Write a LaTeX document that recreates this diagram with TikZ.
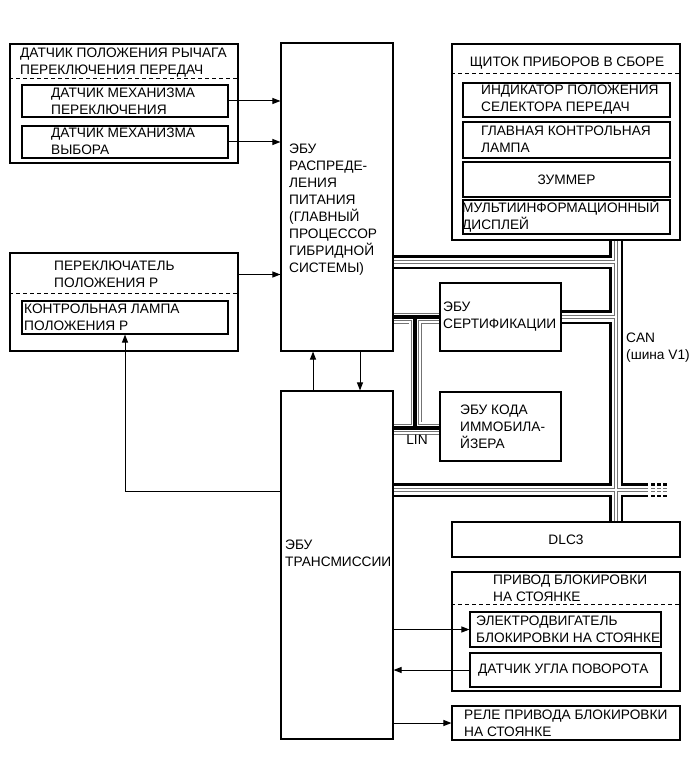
\documentclass[tikz,border=0pt]{standalone}
\usepackage{fontspec}
\setmainfont{Liberation Sans}
\usetikzlibrary{arrows.meta}
\newcommand\lblfont{\fontsize{13.7}{17}\selectfont}

\begin{document}
\begin{tikzpicture}[x=1pt,y=-1pt,>={Triangle[length=8pt,width=6pt]},
  box/.style={draw,line width=1.1pt,inner sep=0pt},
  lbl/.style={font=\lblfont,align=left,inner sep=0pt,anchor=west},
  sep/.style={line width=1pt,dash pattern=on 4pt off 3pt},
  conn/.style={line width=1pt,->}]
\useasboundingbox (0,0) rectangle (691,759);

% CAN bus
\foreach \w/\c in {14/black,9/white,4.2/black!55,2.8/white}
  \draw[line width=\w pt,\c] (393,262) -- (616,262) (616,240) -- (616,522)
    (561,317) -- (616,317) (393,490) -- (648,490);
\foreach \w/\c in {14/black,9/white,4.2/black!55,2.8/white}
  \draw[line width=\w pt,\c,dash pattern=on 3.5pt off 2.5pt] (651,490) -- (668,490);
% LIN bus
\foreach \w/\c in {13/black!55,11.5/white,8/black!55,6.8/white,4/black}
  \draw[line width=\w pt,\c] (393,317) -- (440,317) (415,317) -- (415,428)
    (393,428) -- (440,428);

% shift lever position sensor
\node[box,minimum width=228pt,minimum height=119pt] (lever) at (124,103.5) {};
\draw[sep] (lever.west |- 0,79) -- (lever.east |- 0,79);
\node[lbl] (levertxt) at (20,63) {ДАТЧИК ПОЛОЖЕНИЯ РЫЧАГА\\ПЕРЕКЛЮЧЕНИЯ ПЕРЕДАЧ};
\node[box,minimum width=206pt,minimum height=32pt] (shiftsens) at (125,101) {};
\node[lbl] (shifttxt) at (51,101) {ДАТЧИК МЕХАНИЗМА\\ПЕРЕКЛЮЧЕНИЯ};
\node[box,minimum width=206pt,minimum height=32pt] (selsens) at (125,142) {};
\node[lbl] (seltxt) at (51,141) {ДАТЧИК МЕХАНИЗМА\\ВЫБОРА};

% P position switch
\node[box,minimum width=228pt,minimum height=98pt] (psw) at (124,302) {};
\draw[sep] (psw.west |- 0,293) -- (psw.east |- 0,293);
\node[lbl] (pswtxt) at (54,274.5) {ПЕРЕКЛЮЧАТЕЛЬ\\ПОЛОЖЕНИЯ Р};
\node[box,minimum width=206pt,minimum height=33pt] (plamp) at (125,317.5) {};
\node[lbl] (plamptxt) at (24,317) {КОНТРОЛЬНАЯ ЛАМПА\\ПОЛОЖЕНИЯ Р};

% ECUs
\node[box,minimum width=112pt,minimum height=308pt] (pwr) at (337,197) {};
\node[lbl] (pwrtxt) at (289,210) {ЭБУ\\РАСПРЕДЕ-\\ЛЕНИЯ\\ПИТАНИЯ\\(ГЛАВНЫЙ\\ПРОЦЕССОР\\ГИБРИДНОЙ\\СИСТЕМЫ)};
\node[box,minimum width=112pt,minimum height=348pt] (trans) at (337,565) {};
\node[lbl] (transtxt) at (285,553) {ЭБУ\\ТРАНСМИССИИ};
\node[box,minimum width=121pt,minimum height=68pt] (cert) at (500.5,317) {};
\node[lbl] (certtxt) at (443,317) {ЭБУ\\СЕРТИФИКАЦИИ};
\node[box,minimum width=121pt,minimum height=69pt] (immo) at (500.5,426.5) {};
\node[lbl] (immotxt) at (460,427) {ЭБУ КОДА\\ИММОБИЛА-\\ЙЗЕРА};

% combination meter
\node[box,minimum width=228pt,minimum height=196pt] (cluster) at (566,142) {};
\draw[sep] (cluster.west |- 0,74) -- (cluster.east |- 0,74);
\node[font=\lblfont,inner sep=0pt] (clustertxt) at (567,63) {ЩИТОК ПРИБОРОВ В СБОРЕ};
\node[box,minimum width=207pt,minimum height=34pt] (ind) at (566.5,100) {};
\node[lbl] (indtxt) at (481,100) {ИНДИКАТОР ПОЛОЖЕНИЯ\\СЕЛЕКТОРА ПЕРЕДАЧ};
\node[box,minimum width=207pt,minimum height=36pt] (mil) at (566.5,140) {};
\node[lbl] (miltxt) at (481,139.5) {ГЛАВНАЯ КОНТРОЛЬНАЯ\\ЛАМПА};
\node[box,minimum width=207pt,minimum height=35pt,font=\lblfont] (buzz) at (566.5,179.5) {ЗУММЕР};
\node[box,minimum width=207pt,minimum height=34pt] (mid) at (566.5,217) {};
\node[lbl] (midtxt) at (462,216) {МУЛЬТИИНФОРМАЦИОННЫЙ\\ДИСПЛЕЙ};

\node[box,minimum width=228pt,minimum height=35pt,font=\lblfont] (dlc) at (566,539.5) {DLC3};
\node[lbl] (cantxt) at (626,348) {CAN\\(шина V1)};
\node[font=\lblfont,inner sep=0pt] (lintxt) at (417,440) {LIN};

% parking lock actuator
\node[box,minimum width=228pt,minimum height=119pt] (park) at (566,631.5) {};
\draw[sep] (park.west |- 0,604) -- (park.east |- 0,604);
\node[lbl] (parktxt) at (493,588) {ПРИВОД БЛОКИРОВКИ\\НА СТОЯНКЕ};
\node[box,minimum width=191pt,minimum height=35pt] (motor) at (565.5,629.5) {};
\node[lbl] (motortxt) at (476,629) {ЭЛЕКТРОДВИГАТЕЛЬ\\БЛОКИРОВКИ НА СТОЯНКЕ};
\node[box,minimum width=191pt,minimum height=34pt] (angle) at (565.5,670) {};
\node[lbl] (angletxt) at (478,670) {ДАТЧИК УГЛА ПОВОРОТА};
\node[box,minimum width=228pt,minimum height=34pt] (relay) at (566,723) {};
\node[lbl] (relaytxt) at (464,723) {РЕЛЕ ПРИВОДА БЛОКИРОВКИ\\НА СТОЯНКЕ};

% signal lines
\draw[conn] (shiftsens.east) -- (shiftsens.east -| pwr.west);
\draw[conn] (selsens.east) -- (selsens.east -| pwr.west);
\draw[conn] (psw.east |- pswtxt) -- (pwr.west |- pswtxt);
\draw[conn] (trans.west |- 0,491) -| (plamp.south);
\draw[conn] (trans.north -| 313,0) -- (pwr.south -| 313,0);
\draw[conn] (pwr.south -| 360,0) -- (trans.north -| 360,0);
\draw[conn] (motor.west -| trans.east) -- (motor.west);
\draw[conn] (angle.west) -- (angle.west -| trans.east);
\draw[conn] (relay.west -| trans.east) -- (relay.west);
\end{tikzpicture}
\end{document}
